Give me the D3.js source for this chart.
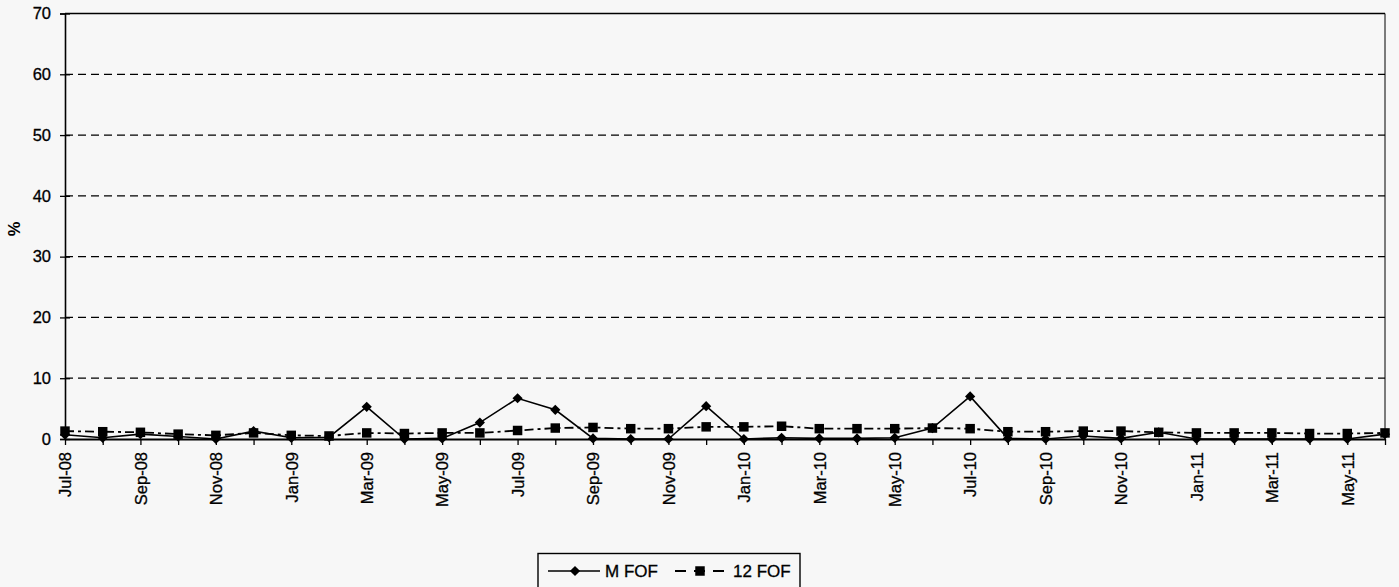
<!DOCTYPE html>
<html><head><meta charset="utf-8">
<script src="https://cdn.jsdelivr.net/npm/d3@7"></script>
<style>
body{margin:0;background:#f7f7f7;}
svg{display:block;font-family:Arial,"Liberation Sans",sans-serif;}
</style></head>
<body><svg id="c" width="1399" height="587"></svg>
<script>
const months = ["Jul-08","Aug-08","Sep-08","Oct-08","Nov-08","Dec-08","Jan-09","Feb-09","Mar-09","Apr-09","May-09","Jun-09",
"Jul-09","Aug-09","Sep-09","Oct-09","Nov-09","Dec-09","Jan-10","Feb-10","Mar-10","Apr-10","May-10","Jun-10",
"Jul-10","Aug-10","Sep-10","Oct-10","Nov-10","Dec-10","Jan-11","Feb-11","Mar-11","Apr-11","May-11","Jun-11"];
const mFOF = [0.7,0.2,0.8,0.4,0.0,1.3,0.2,0.3,5.3,0.0,0.1,2.7,
6.7,4.8,0.1,0.0,0.0,5.4,0.0,0.2,0.1,0.1,0.2,1.8,
7.0,0.1,0.0,0.5,0.1,1.1,0.0,0.0,0.0,0.0,0.0,0.8];
const fof12 = [1.3,1.2,1.1,0.8,0.6,1.0,0.6,0.5,1.0,0.9,1.0,1.0,
1.4,1.8,1.9,1.7,1.7,2.0,2.0,2.1,1.7,1.7,1.7,1.8,
1.7,1.2,1.2,1.3,1.3,1.1,1.0,1.0,1.0,0.9,0.9,1.0];
const yTicks = [0,10,20,30,40,50,60,70];
const seriesNames = ["M FOF","12 FOF"];

const FONT = "Arial,'Liberation Sans',sans-serif";
const FS = 16.5;
const svg = d3.select("#c");
const L=65, R=1385, T=13.5, B=439;
const x = d3.scalePoint().domain(months).range([L,R]);
const y = d3.scaleLinear().domain([0,70]).range([B,T]);

// grid
svg.append("g").selectAll("line").data(yTicks.filter(d=>d>0&&d<70)).join("line")
  .attr("x1",L).attr("x2",R).attr("y1",d=>y(d)).attr("y2",d=>y(d))
  .attr("stroke","#000").attr("stroke-width",1.3).attr("stroke-dasharray","8,5");
// top and right border
svg.append("line").attr("x1",L).attr("x2",R).attr("y1",y(70)).attr("y2",y(70)).attr("stroke","#000").attr("stroke-width",1.4);
svg.append("line").attr("x1",R).attr("x2",R).attr("y1",y(70)).attr("y2",B).attr("stroke","#000").attr("stroke-width",1);

// y axis
const ya = svg.append("g").attr("transform",`translate(${L},0)`)
  .call(d3.axisLeft(y).tickValues(yTicks).tickSize(5).tickPadding(9));
ya.selectAll(".tick line").attr("x2",5).attr("x1",-5).attr("stroke-width",1.3);
ya.select(".domain").attr("stroke-width",1.6);
ya.selectAll("text").attr("font-size",FS).attr("fill","#000").attr("font-family",FONT)
  .attr("stroke","#000").attr("stroke-width",0.3);

// x axis
const xa = svg.append("g").attr("transform",`translate(0,${B})`)
  .call(d3.axisBottom(x).tickSize(6).tickSizeOuter(0).tickFormat((d,i)=>i%2===0?d:""));
xa.select(".domain").attr("stroke-width",2);
xa.selectAll(".tick line").attr("stroke-width",1.3);
xa.selectAll("text").attr("font-size",FS).attr("fill","#000").attr("font-family",FONT)
  .attr("stroke","#000").attr("stroke-width",0.3)
  .attr("transform","rotate(-90)").attr("text-anchor","end")
  .attr("x",-13).attr("y",0).attr("dy","0.35em");

// y title
svg.append("text").attr("transform",`translate(14,229) rotate(-90)`)
  .attr("text-anchor","middle").attr("dy","0.35em").attr("font-size",FS).attr("font-weight","bold").text("%");

// lines
const line = d3.line().x((d,i)=>x(months[i])).y(d=>y(d));
svg.append("path").datum(fof12).attr("d",line).attr("fill","none").attr("stroke","#000")
  .attr("stroke-width",1.8).attr("stroke-dasharray","9,4,3,4");
svg.append("path").datum(mFOF).attr("d",line).attr("fill","none").attr("stroke","#000").attr("stroke-width",1.6);

const sq = d3.symbol().type(d3.symbolSquare).size(90);
const dm = d3.symbol().type(d3.symbolSquare).size(52);
svg.append("g").selectAll("path").data(fof12).join("path")
  .attr("d",sq).attr("transform",(d,i)=>`translate(${x(months[i])},${y(d)})`).attr("fill","#000");
svg.append("g").selectAll("path").data(mFOF).join("path")
  .attr("d",dm).attr("transform",(d,i)=>`translate(${x(months[i])},${y(d)}) rotate(45)`).attr("fill","#000");

// legend
const lg = svg.append("g");
lg.append("rect").attr("x",538).attr("y",553.5).attr("width",262).attr("height",40)
  .attr("fill","#f7f7f7").attr("stroke","#000").attr("stroke-width",1.4);
const ly = 571;
lg.append("line").attr("x1",548).attr("x2",600).attr("y1",ly).attr("y2",ly).attr("stroke","#000").attr("stroke-width",1.6);
lg.append("path").attr("d",dm).attr("transform",`translate(575,${ly}) rotate(45)`);
lg.append("text").attr("x",605).attr("y",ly).attr("dy","0.36em").attr("font-size",FS+0.5).attr("font-family",FONT)
  .attr("stroke","#000").attr("stroke-width",0.3).text(seriesNames[0]);
lg.append("line").attr("x1",675).attr("x2",724).attr("y1",ly).attr("y2",ly).attr("stroke","#000").attr("stroke-width",1.8).attr("stroke-dasharray","11,8,11,8,11");
lg.append("path").attr("d",sq).attr("transform",`translate(700,${ly})`);
lg.append("text").attr("x",733).attr("y",ly).attr("dy","0.36em").attr("font-size",FS+0.5).attr("font-family",FONT)
  .attr("stroke","#000").attr("stroke-width",0.3).text(seriesNames[1]);
</script></body></html>
